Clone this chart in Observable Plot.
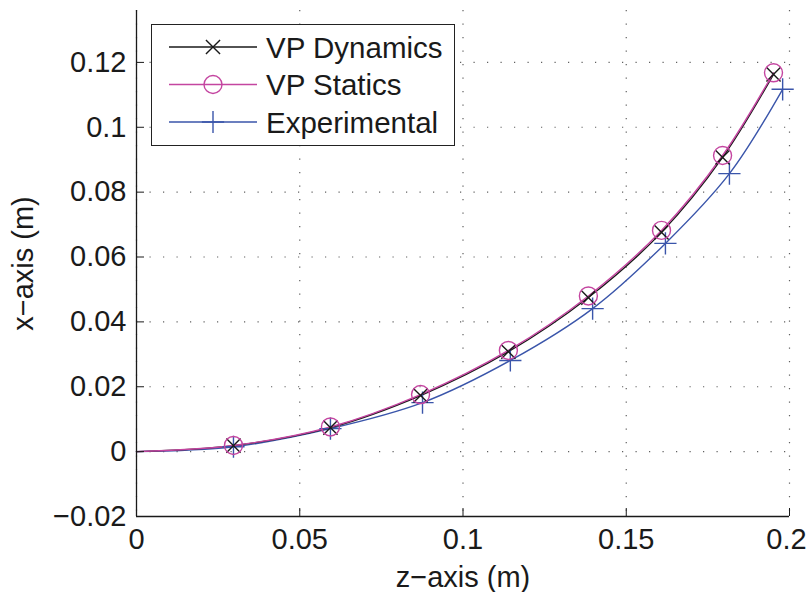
<!DOCTYPE html>
<html>
<head>
<meta charset="utf-8">
<script src="https://cdn.jsdelivr.net/npm/d3@7"></script>
<script src="https://cdn.jsdelivr.net/npm/@observablehq/plot@0.6"></script>
<style>
  html, body { margin: 0; padding: 0; background: #fff; }
  #wrap { position: relative; width: 808px; height: 592px; font-family: "Liberation Sans", Arial, sans-serif; }
  #legend { position: absolute; left: 151px; top: 24px; width: 302px; height: 120px; background: #fff; border: 1.5px solid #222; }
</style>
</head>
<body>
<div id="wrap"></div>
<script>
// Data
const zDyn = [0.0297, 0.0594, 0.0870, 0.1139, 0.1384, 0.1608, 0.1795, 0.1951];
const xDyn = [0.00185, 0.0074, 0.0173, 0.0308, 0.0475, 0.0676, 0.0907, 0.1163];
const zSta = [0.0297, 0.0594, 0.0870, 0.1139, 0.1384, 0.1608, 0.1795, 0.1951];
const xSta = [0.0019, 0.0076, 0.0176, 0.0312, 0.0480, 0.0682, 0.0913, 0.1168];
const zExp = [0.0297, 0.0594, 0.0876, 0.1145, 0.1397, 0.1620, 0.1816, 0.1979];
const xExp = [0.0015, 0.0071, 0.0151, 0.0281, 0.0441, 0.0642, 0.0857, 0.1117];
const origin = [0, 0];
const xTicks = [0, 0.05, 0.1, 0.15, 0.2];
const yTicks = [-0.02, 0, 0.02, 0.04, 0.06, 0.08, 0.1, 0.12];
const seriesNames = ["VP Dynamics", "VP Statics", "Experimental"];
const colors = {"VP Dynamics": "#1a1a1a", "VP Statics": "#c445a0", "Experimental": "#3a55aa"};
const symbols = {"VP Dynamics": "times", "VP Statics": "circle", "Experimental": "plus"};

const mk = (zs, xs) => zs.map((z, i) => ({z, x: xs[i]}));
const pts = {
  "VP Dynamics": mk(zDyn, xDyn),
  "VP Statics": mk(zSta, xSta),
  "Experimental": mk(zExp, xExp)
};
const lineData = s => [{z: origin[0], x: origin[1]}, ...pts[s]];

const fmt = d => d === 0 ? "0" : (d < 0 ? "\u2212" + String(-d) : String(d));
const lastX = xTicks[xTicks.length - 1];

const font = "29px";
const chart = Plot.plot({
  width: 808,
  height: 592,
  marginLeft: 136,
  marginRight: 19,
  marginTop: 10,
  marginBottom: 76,
  style: {fontFamily: "'Liberation Sans', Arial, sans-serif", fontSize: font, background: "#fff", color: "#1a1a1a", overflow: "visible"},
  x: {domain: [0, 0.2]},
  y: {domain: [-0.02, 0.136]},
  marks: [
    Plot.gridX(xTicks, {stroke: "#444", strokeOpacity: 0.85, strokeWidth: 1.2, strokeDasharray: "1.2,12.3"}),
    Plot.gridY(yTicks, {stroke: "#444", strokeOpacity: 0.85, strokeWidth: 1.2, strokeDasharray: "1.2,12.3"}),
    Plot.line(lineData("Experimental"), {x: "z", y: "x", stroke: colors["Experimental"], strokeWidth: 1.4, curve: "catmull-rom"}),
    Plot.line(lineData("VP Dynamics"), {x: "z", y: "x", stroke: colors["VP Dynamics"], strokeWidth: 1.4, curve: "catmull-rom"}),
    Plot.line(lineData("VP Statics"), {x: "z", y: "x", stroke: colors["VP Statics"], strokeWidth: 1.4, curve: "catmull-rom"}),
    Plot.dot(pts["Experimental"], {x: "z", y: "x", symbol: "plus", r: 7.2, stroke: colors["Experimental"], strokeWidth: 1.4}),
    Plot.dot(pts["VP Dynamics"], {x: "z", y: "x", symbol: "times", r: 6.5, stroke: colors["VP Dynamics"], strokeWidth: 1.4}),
    Plot.dot(pts["VP Statics"], {x: "z", y: "x", symbol: "circle", r: 9, fill: "none", stroke: colors["VP Statics"], strokeWidth: 1.4}),
    Plot.axisX(xTicks, {tickSize: -8, tickPadding: 20, tickFormat: d => d === lastX ? "" : fmt(d), fontSize: font, stroke: "#1a1a1a",
      label: "z\u2212axis (m)", labelAnchor: "center", labelArrow: "none", labelOffset: 70}),
    Plot.axisX([lastX], {tickSize: 0, tickPadding: 12, tickFormat: fmt, fontSize: font, label: null, dx: -3}),
    Plot.axisY(yTicks, {tickSize: -8, tickPadding: 18, tickFormat: fmt, label: "x\u2212axis (m)", labelAnchor: "center", labelArrow: "none", labelOffset: 124, fontSize: font, stroke: "#1a1a1a"}),
    Plot.ruleX([0], {stroke: "#1a1a1a", strokeWidth: 1.3}),
    Plot.ruleY([-0.02], {stroke: "#1a1a1a", strokeWidth: 1.3})
  ]
});
const wrap = document.getElementById("wrap");
wrap.appendChild(chart);

// Legend overlay
const leg = d3.select(wrap).append("div").attr("id", "legend");
const lsvg = leg.append("svg").attr("width", 302).attr("height", 120);
const sym = {times: d3.symbolTimes, circle: d3.symbolCircle, plus: d3.symbolPlus};
seriesNames.forEach((s, i) => {
  const yy = 22 + i * 37.5;
  const g = lsvg.append("g");
  g.append("line").attr("x1", 17).attr("x2", 105).attr("y1", yy).attr("y2", yy)
    .attr("stroke", colors[s]).attr("stroke-width", 1.4);
  const size = {times: Math.PI * 42, circle: Math.PI * 81, plus: Math.PI * 52}[symbols[s]];
  g.append("path").attr("d", d3.symbol(sym[symbols[s]], size)())
    .attr("transform", `translate(61,${yy})`)
    .attr("fill", "none").attr("stroke", colors[s]).attr("stroke-width", 1.4);
  g.append("text").attr("x", 114).attr("y", yy + 10.5).text(s)
    .attr("font-size", "29.5px").attr("fill", "#1a1a1a")
    .attr("font-family", "'Liberation Sans', Arial, sans-serif");
});
</script>
</body>
</html>
